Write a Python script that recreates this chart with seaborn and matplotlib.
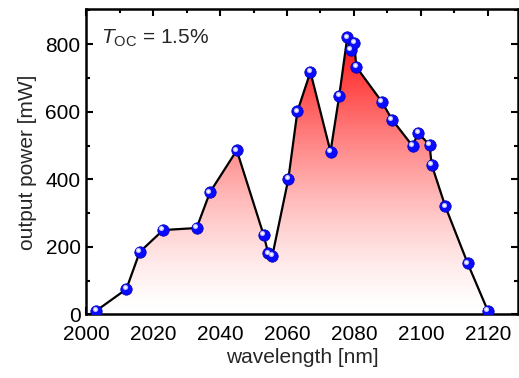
import numpy as np
import pandas as pd
import matplotlib
matplotlib.use("Agg")
import matplotlib.pyplot as plt
import matplotlib.transforms as mtransforms
from matplotlib.colors import LinearSegmentedColormap
from matplotlib.ticker import MultipleLocator
import seaborn as sns

wavelength = [2003, 2012, 2016, 2023, 2033, 2037, 2045, 2053, 2054.4, 2055.6,
              2060.4, 2063.1, 2067, 2073, 2075.6, 2078, 2079.1, 2080.1, 2080.7,
              2088.3, 2091.4, 2097.5, 2099.2, 2102.6, 2103.2, 2107.3, 2114, 2120]
power = [11, 75, 185, 250, 256, 362, 486, 236, 181, 173,
         401, 601, 718, 482, 647, 820, 783, 804, 733,
         630, 577, 499, 537, 502, 444, 320, 151, 11]

df = pd.DataFrame({'wavelength': wavelength, 'power': power})

sns.set_style("ticks")
plt.rcParams['font.family'] = ['Liberation Sans', 'DejaVu Sans']
plt.rcParams['mathtext.fontset'] = 'custom'
plt.rcParams['mathtext.rm'] = 'Liberation Sans'
plt.rcParams['mathtext.it'] = 'Liberation Sans:italic'

fig = plt.figure(figsize=(5.19, 3.78), dpi=100)
ax = fig.add_axes([0.166, 0.168, 0.832, 0.807])

# gradient fill below the curve (white at bottom, red at the peak)
poly = ax.fill_between(df['wavelength'], 0, df['power'], color='none', lw=0)
grad_cmap = LinearSegmentedColormap.from_list('wr', ['#ffffff', '#ff1010'])
grad = (np.linspace(0, 1, 256) ** 1.4).reshape(-1, 1)
im = ax.imshow(grad, cmap=grad_cmap, origin='lower', aspect='auto',
               extent=[2000, 2130, 0, max(power)], zorder=1, vmin=0, vmax=1)
im.set_clip_path(poly.get_paths()[0], transform=ax.transData)

sns.lineplot(data=df, x='wavelength', y='power', color='black', lw=1.6,
             ax=ax, zorder=2)
sns.scatterplot(data=df, x='wavelength', y='power', color='#0a0aff', s=68,
                edgecolor='#0000b0', linewidth=0.5, ax=ax, zorder=3)
hl = mtransforms.offset_copy(ax.transData, fig=fig, x=-1.2, y=1.2, units='points')
ax.scatter(df['wavelength'], df['power'], s=14, color='#b8b8ff', lw=0,
           transform=hl, zorder=4)
ax.scatter(df['wavelength'], df['power'], s=4, color='white', lw=0,
           transform=hl, zorder=5)

ax.set_xlim(2000, 2129)
ax.set_ylim(0, 903)
ax.xaxis.set_major_locator(MultipleLocator(20))
ax.xaxis.set_minor_locator(MultipleLocator(10))
ax.yaxis.set_major_locator(MultipleLocator(200))
ax.yaxis.set_minor_locator(MultipleLocator(100))
ax.tick_params(which='both', direction='in', top=True, right=True,
               width=1.5, labelsize=15, colors='black')
ax.tick_params(which='major', length=5)
ax.tick_params(which='minor', length=3)
ax.tick_params(axis='x', pad=7.5)
ax.tick_params(axis='y', pad=4)
for sp in ax.spines.values():
    sp.set_linewidth(1.8)
    sp.set_color('black')

ax.set_xlabel('wavelength [nm]', fontsize=15, labelpad=3)
ax.set_ylabel('output power [mW]', fontsize=15, labelpad=6)
ax.text(0.035, 0.905, r'$\mathit{T}_{\mathrm{OC}}$ = 1.5%', transform=ax.transAxes,
        fontsize=15, va='center', ha='left')

fig.savefig('out.png', dpi=100)
